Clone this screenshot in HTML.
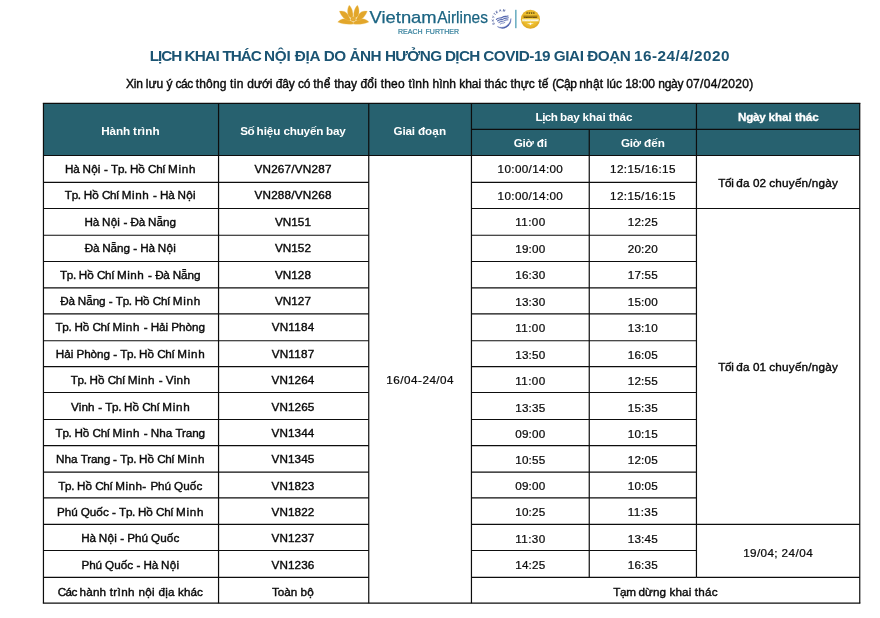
<!DOCTYPE html>
<html lang="vi"><head><meta charset="utf-8"><title>Lịch khai thác nội địa - Vietnam Airlines</title>
<style>
html,body{margin:0;padding:0;background:#fff}
body{width:880px;height:618px;position:relative;overflow:hidden;font-family:"Liberation Sans",sans-serif;color:#111}
.abs{position:absolute}
.c{position:absolute;text-align:center;white-space:nowrap;font-size:11.7px;color:#0a0a0a;-webkit-text-stroke:0.4px #0a0a0a}
.h{position:absolute;text-align:center;white-space:nowrap;font-size:11.7px;font-weight:bold;color:#fff}
#title{position:absolute;text-align:left;white-space:nowrap;font-weight:bold;font-size:15.3px;color:#1b5473}
#sub{position:absolute;text-align:left;white-space:nowrap;font-size:12.02px;color:#0a0a0a;-webkit-text-stroke:0.4px #0a0a0a}
#hdrbg{position:absolute;background:#27616f}
svg{position:absolute;left:0;top:0}

</style></head><body>
<div id="hdrbg" style="left:43.45px;top:103.3px;width:816.3px;height:52.2px"></div>
<svg id="logo" width="240" height="40" viewBox="330 0 240 40" style="left:330px;top:0" font-family="Liberation Sans, sans-serif">
<defs>
<radialGradient id="gold" cx="0.5" cy="0.45" r="0.55">
<stop offset="0" stop-color="#f3cf3a"/><stop offset="0.7" stop-color="#ecbb2c"/><stop offset="1" stop-color="#dba321"/>
</radialGradient>
<path id="skyarc" d="M 495.2,24.2 A 8.3,8.3 0 0 1 506.6,12.7"/>
</defs>
<!-- lotus -->
<g transform="translate(334,2) scale(0.04545)" fill="#e2a62a" stroke="#efc666" stroke-width="7" stroke-linejoin="round">
<path d="M82,442 C120,395 180,362 250,370 C320,378 380,420 425,452 L425,486 C330,498 180,492 82,442 Z"/>
<path d="M768,440 C730,395 670,362 600,370 C530,378 470,420 425,452 L425,486 C520,498 670,492 768,440 Z"/>
<path d="M118,203 C190,188 268,212 303,272 C322,308 338,350 368,388 L335,414 C240,400 160,310 118,203 Z"/>
<path d="M732,203 C660,188 582,212 547,272 C528,308 512,350 482,388 L515,414 C610,400 690,310 732,203 Z"/>
<path d="M335,70 C298,120 283,230 318,300 C338,337 375,352 407,352 C428,290 422,160 335,70 Z"/>
<path d="M515,70 C552,120 567,230 532,300 C512,337 475,352 443,352 C422,290 428,160 515,70 Z"/>
<path d="M425,318 C470,330 500,370 470,410 C450,432 400,432 380,410 C350,370 380,330 425,318 Z"/>
<circle cx="425" cy="372" r="22" fill="none" stroke-width="8"/>
</g>
<!-- wordmark -->
<text x="369.6" y="22.7" font-size="16.6" fill="#1b6482" stroke="#1b6482" stroke-width="0.25" textLength="67" lengthAdjust="spacingAndGlyphs">Vietnam</text>
<text x="437.2" y="22.7" font-size="16.6" fill="#1b6482" stroke="#1b6482" stroke-width="0.25" textLength="50.8" lengthAdjust="spacingAndGlyphs">Airlines</text>
<text x="398" y="33.6" font-size="7.8" fill="#35809d" stroke="#35809d" stroke-width="0.22" textLength="61" lengthAdjust="spacingAndGlyphs" word-spacing="1">REACH FURTHER</text>
<!-- skyteam -->
<g fill="none" stroke="#4157a6" stroke-linecap="round">
<path d="M510.9,18.9 A8.5,8.5 0 0 1 497.4,26.6 A9.6,9.6 0 0 0 510.9,18.9 Z" fill="#4157a6" stroke-width="0.4"/>
<path d="M496.4,19.4 C498.6,16.9 500.4,18.9 502.5,17.2 C504.5,15.6 506,16.9 508,15.9" stroke-width="1.15" opacity="0.9"/>
<path d="M497.6,21 C499.8,18.6 501.6,20.5 503.6,18.9 C505.5,17.4 506.8,18.6 508.3,17.8" stroke-width="1.15" opacity="0.85"/>
<path d="M498.9,22.6 C500.8,20.4 502.6,22.1 504.5,20.6 C506,19.5 507,20.1 508,19.8" stroke-width="1.1" opacity="0.75"/>
<path d="M500.2,24.1 C501.8,22.4 503.3,23.7 504.9,22.5" stroke-width="1" opacity="0.65"/>
</g>
<text font-size="3.2" font-weight="bold" fill="#33478f" letter-spacing="0.75"><textPath href="#skyarc">SKYTEAM</textPath></text>
<!-- divider -->
<rect x="515.2" y="9.8" width="1.3" height="18.4" fill="#4f9fb6"/>
<!-- 4-star badge -->
<circle cx="530.4" cy="19.3" r="9.5" fill="url(#gold)"/>
<text x="530.4" y="14" font-size="3" text-anchor="middle" fill="#3a2a08" font-family="DejaVu Sans, sans-serif" textLength="9.4">★★★★</text>
<rect x="523.4" y="15.5" width="14" height="2.4" fill="#a97f16"/>
<text x="530.4" y="17.5" font-size="2.4" font-weight="bold" text-anchor="middle" fill="#3a2a08" textLength="13">CERTIFIED</text>
<rect x="522" y="18.9" width="16.8" height="2.5" fill="#f4e6ad"/>
<text x="530.4" y="21" font-size="2.4" font-weight="bold" text-anchor="middle" fill="#fff" textLength="15.2">4-STAR AIRLINE</text>
<path d="M526.8,23.8 L529.6,23.3 L530.4,22.6 L531.2,23.3 L534,23.8 L531.2,24.3 L530.4,25.2 L529.6,24.3 Z" fill="#fff"/>
</svg>

<div id="title" style="top:45.6px;line-height:20px;left:149.7px"><span style="letter-spacing:-1.038px">LỊCH </span><span style="letter-spacing:-0.706px">KHAI </span><span style="letter-spacing:-1.058px">THÁC </span><span style="letter-spacing:-0.212px">NỘI </span><span style="letter-spacing:-0.233px">ĐỊA </span><span style="letter-spacing:-0.512px">DO </span><span style="letter-spacing:-0.469px">ẢNH </span><span style="letter-spacing:-0.654px">HƯỞNG </span><span style="letter-spacing:-0.683px">DỊCH </span><span style="letter-spacing:-0.471px">COVID-19 </span><span style="letter-spacing:-0.434px">GIAI </span><span style="letter-spacing:-0.508px">ĐOẠN </span><span style="letter-spacing:0.477px">16-24/4/2020</span></div>
<div id="sub" style="top:74px;line-height:20px;left:126px"><span style="letter-spacing:-0.246px">Xin </span><span style="letter-spacing:0.021px">lưu </span><span style="letter-spacing:-0.212px">ý </span><span style="letter-spacing:-0.440px">các </span><span style="letter-spacing:0.150px">thông </span><span style="letter-spacing:0.294px">tin </span><span style="letter-spacing:-0.039px">dưới </span><span style="letter-spacing:-0.120px">đây </span><span style="letter-spacing:-0.225px">có </span><span style="letter-spacing:0.196px">thể </span><span style="letter-spacing:0.047px">thay </span><span style="letter-spacing:0.201px">đổi </span><span style="letter-spacing:0.206px">theo </span><span style="letter-spacing:0.146px">tình </span><span style="letter-spacing:-0.003px">hình </span><span style="letter-spacing:-0.042px">khai </span><span style="letter-spacing:0.018px">thác </span><span style="letter-spacing:0.071px">thực </span><span style="letter-spacing:0.139px">tế </span><span style="letter-spacing:-0.443px">(Cập </span><span style="letter-spacing:0.128px">nhật </span><span style="letter-spacing:-0.061px">lúc </span><span style="letter-spacing:-0.044px">18:00 </span><span style="letter-spacing:-0.314px">ngày </span><span style="letter-spacing:0.301px">07/04/2020)</span></div>
<div class="h" style="left:42.92px;top:104.7px;width:175.1px;height:52.2px;line-height:52.2px;"><span style="letter-spacing:-0.101px">Hành </span><span style="letter-spacing:0.137px">trình</span></div>
<div class="h" style="left:217.86px;top:104.7px;width:150.2px;height:52.2px;line-height:52.2px;"><span style="letter-spacing:-0.627px">Số </span><span style="letter-spacing:-0.053px">hiệu </span><span style="letter-spacing:-0.244px">chuyến </span><span style="letter-spacing:-0.182px">bay</span></div>
<div class="h" style="left:368.48px;top:104.7px;width:102.7px;height:52.2px;line-height:52.2px;"><span style="letter-spacing:-0.193px">Giai </span><span style="letter-spacing:0.064px">đoạn</span></div>
<div class="h" style="left:471.51px;top:104.3px;width:225px;height:26.05px;line-height:26.05px;"><span style="letter-spacing:-0.577px">Lịch </span><span style="letter-spacing:-0.203px">bay </span><span style="letter-spacing:-0.100px">khai </span><span style="letter-spacing:-0.089px">thác</span></div>
<div class="h" style="left:471.64px;top:130.35px;width:117.8px;height:26.15px;line-height:26.15px;"><span style="letter-spacing:-0.232px">Giờ </span><span style="letter-spacing:0.177px">đi</span></div>
<div class="h" style="left:589.42px;top:130.35px;width:107.2px;height:26.15px;line-height:26.15px;"><span style="letter-spacing:-0.232px">Giờ </span><span style="letter-spacing:0.145px">đến</span></div>
<div class="h" style="left:696.74px;top:104.3px;width:163.3px;height:26.05px;line-height:26.05px;-webkit-text-stroke:0.3px #fff;"><span style="letter-spacing:-0.263px">Ngày </span><span style="letter-spacing:-0.048px">khai </span><span style="letter-spacing:-0.030px">thác</span></div>
<div class="c" style="left:43.1px;top:155.5px;width:175.1px;height:26.8px;line-height:26.8px;"><span style="letter-spacing:-0.225px">Hà </span><span style="letter-spacing:0.172px">Nội </span><span style="letter-spacing:-0.061px">- </span><span style="letter-spacing:-0.322px">Tp. </span><span style="letter-spacing:-0.013px">Hồ </span><span style="letter-spacing:-0.367px">Chí </span><span style="letter-spacing:0.706px">Minh</span></div>
<div class="c" style="left:217.96px;top:155.5px;width:150.2px;height:26.8px;line-height:26.8px;"><span style="letter-spacing:0.224px">VN267/VN287</span></div>
<div class="c" style="left:471.53px;top:155.9px;width:117.8px;height:26.8px;line-height:26.8px;-webkit-text-stroke-width:0.24px;"><span style="letter-spacing:0.353px">10:00/14:00</span></div>
<div class="c" style="left:589.33px;top:155.9px;width:107.2px;height:26.8px;line-height:26.8px;-webkit-text-stroke-width:0.24px;"><span style="letter-spacing:0.353px">12:15/16:15</span></div>
<div class="c" style="left:42.91px;top:182.37px;width:175.1px;height:26.2px;line-height:26.2px;"><span style="letter-spacing:-0.322px">Tp. </span><span style="letter-spacing:-0.013px">Hồ </span><span style="letter-spacing:-0.367px">Chí </span><span style="letter-spacing:0.512px">Minh </span><span style="letter-spacing:-0.061px">- </span><span style="letter-spacing:-0.225px">Hà </span><span style="letter-spacing:0.319px">Nội</span></div>
<div class="c" style="left:217.96px;top:182.37px;width:150.2px;height:26.2px;line-height:26.2px;"><span style="letter-spacing:0.224px">VN288/VN268</span></div>
<div class="c" style="left:471.53px;top:182.77px;width:117.8px;height:26.2px;line-height:26.2px;-webkit-text-stroke-width:0.24px;"><span style="letter-spacing:0.353px">10:00/14:00</span></div>
<div class="c" style="left:589.33px;top:182.77px;width:107.2px;height:26.2px;line-height:26.2px;-webkit-text-stroke-width:0.24px;"><span style="letter-spacing:0.353px">12:15/16:15</span></div>
<div class="c" style="left:42.75px;top:208.64px;width:175.1px;height:26.75px;line-height:26.75px;"><span style="letter-spacing:-0.225px">Hà </span><span style="letter-spacing:0.172px">Nội </span><span style="letter-spacing:-0.061px">- </span><span style="letter-spacing:-0.219px">Đà </span><span style="letter-spacing:0.005px">Nẵng</span></div>
<div class="c" style="left:217.88px;top:208.64px;width:150.2px;height:26.75px;line-height:26.75px;"><span style="letter-spacing:0.062px">VN151</span></div>
<div class="c" style="left:471.54px;top:209.04px;width:117.8px;height:26.75px;line-height:26.75px;-webkit-text-stroke-width:0.24px;"><span style="letter-spacing:0.377px">11:00</span></div>
<div class="c" style="left:589.25px;top:209.04px;width:107.2px;height:26.75px;line-height:26.75px;-webkit-text-stroke-width:0.24px;"><span style="letter-spacing:0.203px">12:25</span></div>
<div class="c" style="left:42.91px;top:235.46px;width:175.1px;height:26.25px;line-height:26.25px;"><span style="letter-spacing:-0.219px">Đà </span><span style="letter-spacing:-0.049px">Nẵng </span><span style="letter-spacing:-0.061px">- </span><span style="letter-spacing:-0.225px">Hà </span><span style="letter-spacing:0.319px">Nội</span></div>
<div class="c" style="left:217.88px;top:235.46px;width:150.2px;height:26.25px;line-height:26.25px;"><span style="letter-spacing:0.062px">VN152</span></div>
<div class="c" style="left:471.45px;top:235.86px;width:117.8px;height:26.25px;line-height:26.25px;-webkit-text-stroke-width:0.24px;"><span style="letter-spacing:0.203px">19:00</span></div>
<div class="c" style="left:589.25px;top:235.86px;width:107.2px;height:26.25px;line-height:26.25px;-webkit-text-stroke-width:0.24px;"><span style="letter-spacing:0.203px">20:20</span></div>
<div class="c" style="left:42.75px;top:261.78px;width:175.1px;height:26.4px;line-height:26.4px;"><span style="letter-spacing:-0.322px">Tp. </span><span style="letter-spacing:-0.013px">Hồ </span><span style="letter-spacing:-0.367px">Chí </span><span style="letter-spacing:0.512px">Minh </span><span style="letter-spacing:-0.061px">- </span><span style="letter-spacing:-0.219px">Đà </span><span style="letter-spacing:0.005px">Nẵng</span></div>
<div class="c" style="left:217.88px;top:261.78px;width:150.2px;height:26.4px;line-height:26.4px;"><span style="letter-spacing:0.062px">VN128</span></div>
<div class="c" style="left:471.45px;top:262.18px;width:117.8px;height:26.4px;line-height:26.4px;-webkit-text-stroke-width:0.24px;"><span style="letter-spacing:0.203px">16:30</span></div>
<div class="c" style="left:589.25px;top:262.18px;width:107.2px;height:26.4px;line-height:26.4px;-webkit-text-stroke-width:0.24px;"><span style="letter-spacing:0.203px">17:55</span></div>
<div class="c" style="left:43.1px;top:288.25px;width:175.1px;height:26px;line-height:26px;"><span style="letter-spacing:-0.219px">Đà </span><span style="letter-spacing:-0.049px">Nẵng </span><span style="letter-spacing:-0.061px">- </span><span style="letter-spacing:-0.322px">Tp. </span><span style="letter-spacing:-0.013px">Hồ </span><span style="letter-spacing:-0.367px">Chí </span><span style="letter-spacing:0.706px">Minh</span></div>
<div class="c" style="left:217.88px;top:288.25px;width:150.2px;height:26px;line-height:26px;"><span style="letter-spacing:0.062px">VN127</span></div>
<div class="c" style="left:471.45px;top:288.65px;width:117.8px;height:26px;line-height:26px;-webkit-text-stroke-width:0.24px;"><span style="letter-spacing:0.203px">13:30</span></div>
<div class="c" style="left:589.25px;top:288.65px;width:107.2px;height:26px;line-height:26px;-webkit-text-stroke-width:0.24px;"><span style="letter-spacing:0.203px">15:00</span></div>
<div class="c" style="left:42.75px;top:314.32px;width:175.1px;height:26.85px;line-height:26.85px;"><span style="letter-spacing:-0.322px">Tp. </span><span style="letter-spacing:-0.013px">Hồ </span><span style="letter-spacing:-0.367px">Chí </span><span style="letter-spacing:0.512px">Minh </span><span style="letter-spacing:-0.061px">- </span><span style="letter-spacing:-0.061px">Hải </span><span style="letter-spacing:0.006px">Phòng</span></div>
<div class="c" style="left:217.96px;top:314.32px;width:150.2px;height:26.85px;line-height:26.85px;"><span style="letter-spacing:0.227px">VN1184</span></div>
<div class="c" style="left:471.54px;top:314.72px;width:117.8px;height:26.85px;line-height:26.85px;-webkit-text-stroke-width:0.24px;"><span style="letter-spacing:0.377px">11:00</span></div>
<div class="c" style="left:589.25px;top:314.72px;width:107.2px;height:26.85px;line-height:26.85px;-webkit-text-stroke-width:0.24px;"><span style="letter-spacing:0.203px">13:10</span></div>
<div class="c" style="left:43.1px;top:341.24px;width:175.1px;height:25.85px;line-height:25.85px;"><span style="letter-spacing:-0.061px">Hải </span><span style="letter-spacing:-0.039px">Phòng </span><span style="letter-spacing:-0.061px">- </span><span style="letter-spacing:-0.322px">Tp. </span><span style="letter-spacing:-0.013px">Hồ </span><span style="letter-spacing:-0.367px">Chí </span><span style="letter-spacing:0.706px">Minh</span></div>
<div class="c" style="left:217.96px;top:341.24px;width:150.2px;height:25.85px;line-height:25.85px;"><span style="letter-spacing:0.227px">VN1187</span></div>
<div class="c" style="left:471.45px;top:341.64px;width:117.8px;height:25.85px;line-height:25.85px;-webkit-text-stroke-width:0.24px;"><span style="letter-spacing:0.203px">13:50</span></div>
<div class="c" style="left:589.25px;top:341.64px;width:107.2px;height:25.85px;line-height:25.85px;-webkit-text-stroke-width:0.24px;"><span style="letter-spacing:0.203px">16:05</span></div>
<div class="c" style="left:42.9px;top:367.16px;width:175.1px;height:25.9px;line-height:25.9px;"><span style="letter-spacing:-0.322px">Tp. </span><span style="letter-spacing:-0.013px">Hồ </span><span style="letter-spacing:-0.367px">Chí </span><span style="letter-spacing:0.512px">Minh </span><span style="letter-spacing:-0.061px">- </span><span style="letter-spacing:0.296px">Vinh</span></div>
<div class="c" style="left:217.89px;top:367.16px;width:150.2px;height:25.9px;line-height:25.9px;"><span style="letter-spacing:0.082px">VN1264</span></div>
<div class="c" style="left:471.54px;top:367.56px;width:117.8px;height:25.9px;line-height:25.9px;-webkit-text-stroke-width:0.24px;"><span style="letter-spacing:0.377px">11:00</span></div>
<div class="c" style="left:589.25px;top:367.56px;width:107.2px;height:25.9px;line-height:25.9px;-webkit-text-stroke-width:0.24px;"><span style="letter-spacing:0.203px">12:55</span></div>
<div class="c" style="left:43.1px;top:393.13px;width:175.1px;height:27px;line-height:27px;"><span style="letter-spacing:0.183px">Vinh </span><span style="letter-spacing:-0.061px">- </span><span style="letter-spacing:-0.322px">Tp. </span><span style="letter-spacing:-0.013px">Hồ </span><span style="letter-spacing:-0.367px">Chí </span><span style="letter-spacing:0.706px">Minh</span></div>
<div class="c" style="left:217.89px;top:393.13px;width:150.2px;height:27px;line-height:27px;"><span style="letter-spacing:0.082px">VN1265</span></div>
<div class="c" style="left:471.45px;top:393.53px;width:117.8px;height:27px;line-height:27px;-webkit-text-stroke-width:0.24px;"><span style="letter-spacing:0.203px">13:35</span></div>
<div class="c" style="left:589.25px;top:393.53px;width:107.2px;height:27px;line-height:27px;-webkit-text-stroke-width:0.24px;"><span style="letter-spacing:0.203px">15:35</span></div>
<div class="c" style="left:42.68px;top:420.2px;width:175.1px;height:26.1px;line-height:26.1px;"><span style="letter-spacing:-0.322px">Tp. </span><span style="letter-spacing:-0.013px">Hồ </span><span style="letter-spacing:-0.367px">Chí </span><span style="letter-spacing:0.512px">Minh </span><span style="letter-spacing:-0.061px">- </span><span style="letter-spacing:0.012px">Nha </span><span style="letter-spacing:-0.143px">Trang</span></div>
<div class="c" style="left:217.89px;top:420.2px;width:150.2px;height:26.1px;line-height:26.1px;"><span style="letter-spacing:0.082px">VN1344</span></div>
<div class="c" style="left:471.45px;top:420.6px;width:117.8px;height:26.1px;line-height:26.1px;-webkit-text-stroke-width:0.24px;"><span style="letter-spacing:0.203px">09:00</span></div>
<div class="c" style="left:589.25px;top:420.6px;width:107.2px;height:26.1px;line-height:26.1px;-webkit-text-stroke-width:0.24px;"><span style="letter-spacing:0.203px">10:15</span></div>
<div class="c" style="left:43.1px;top:446.37px;width:175.1px;height:26.5px;line-height:26.5px;"><span style="letter-spacing:0.012px">Nha </span><span style="letter-spacing:-0.163px">Trang </span><span style="letter-spacing:-0.061px">- </span><span style="letter-spacing:-0.322px">Tp. </span><span style="letter-spacing:-0.013px">Hồ </span><span style="letter-spacing:-0.367px">Chí </span><span style="letter-spacing:0.706px">Minh</span></div>
<div class="c" style="left:217.89px;top:446.37px;width:150.2px;height:26.5px;line-height:26.5px;"><span style="letter-spacing:0.082px">VN1345</span></div>
<div class="c" style="left:471.45px;top:446.77px;width:117.8px;height:26.5px;line-height:26.5px;-webkit-text-stroke-width:0.24px;"><span style="letter-spacing:0.203px">10:55</span></div>
<div class="c" style="left:589.25px;top:446.77px;width:107.2px;height:26.5px;line-height:26.5px;-webkit-text-stroke-width:0.24px;"><span style="letter-spacing:0.203px">12:05</span></div>
<div class="c" style="left:42.8px;top:472.94px;width:175.1px;height:25.8px;line-height:25.8px;"><span style="letter-spacing:-0.322px">Tp. </span><span style="letter-spacing:-0.013px">Hồ </span><span style="letter-spacing:-0.367px">Chí </span><span style="letter-spacing:0.451px">Minh- </span><span style="letter-spacing:-0.099px">Phú </span><span style="letter-spacing:0.099px">Quốc</span></div>
<div class="c" style="left:217.89px;top:472.94px;width:150.2px;height:25.8px;line-height:25.8px;"><span style="letter-spacing:0.082px">VN1823</span></div>
<div class="c" style="left:471.45px;top:473.34px;width:117.8px;height:25.8px;line-height:25.8px;-webkit-text-stroke-width:0.24px;"><span style="letter-spacing:0.203px">09:00</span></div>
<div class="c" style="left:589.25px;top:473.34px;width:107.2px;height:25.8px;line-height:25.8px;-webkit-text-stroke-width:0.24px;"><span style="letter-spacing:0.203px">10:05</span></div>
<div class="c" style="left:43.1px;top:498.81px;width:175.1px;height:26.5px;line-height:26.5px;"><span style="letter-spacing:-0.099px">Phú </span><span style="letter-spacing:0.026px">Quốc </span><span style="letter-spacing:-0.061px">- </span><span style="letter-spacing:-0.322px">Tp. </span><span style="letter-spacing:-0.013px">Hồ </span><span style="letter-spacing:-0.367px">Chí </span><span style="letter-spacing:0.706px">Minh</span></div>
<div class="c" style="left:217.89px;top:498.81px;width:150.2px;height:26.5px;line-height:26.5px;"><span style="letter-spacing:0.082px">VN1822</span></div>
<div class="c" style="left:471.45px;top:499.21px;width:117.8px;height:26.5px;line-height:26.5px;-webkit-text-stroke-width:0.24px;"><span style="letter-spacing:0.203px">10:25</span></div>
<div class="c" style="left:589.34px;top:499.21px;width:107.2px;height:26.5px;line-height:26.5px;-webkit-text-stroke-width:0.24px;"><span style="letter-spacing:0.377px">11:35</span></div>
<div class="c" style="left:42.8px;top:525.38px;width:175.1px;height:26.1px;line-height:26.1px;"><span style="letter-spacing:-0.225px">Hà </span><span style="letter-spacing:0.172px">Nội </span><span style="letter-spacing:-0.061px">- </span><span style="letter-spacing:-0.099px">Phú </span><span style="letter-spacing:0.099px">Quốc</span></div>
<div class="c" style="left:217.89px;top:525.38px;width:150.2px;height:26.1px;line-height:26.1px;"><span style="letter-spacing:0.082px">VN1237</span></div>
<div class="c" style="left:471.54px;top:525.78px;width:117.8px;height:26.1px;line-height:26.1px;-webkit-text-stroke-width:0.24px;"><span style="letter-spacing:0.377px">11:30</span></div>
<div class="c" style="left:589.25px;top:525.78px;width:107.2px;height:26.1px;line-height:26.1px;-webkit-text-stroke-width:0.24px;"><span style="letter-spacing:0.203px">13:45</span></div>
<div class="c" style="left:42.91px;top:551.55px;width:175.1px;height:26.9px;line-height:26.9px;"><span style="letter-spacing:-0.099px">Phú </span><span style="letter-spacing:0.026px">Quốc </span><span style="letter-spacing:-0.061px">- </span><span style="letter-spacing:-0.225px">Hà </span><span style="letter-spacing:0.319px">Nội</span></div>
<div class="c" style="left:217.89px;top:551.55px;width:150.2px;height:26.9px;line-height:26.9px;"><span style="letter-spacing:0.082px">VN1236</span></div>
<div class="c" style="left:471.45px;top:551.95px;width:117.8px;height:26.9px;line-height:26.9px;-webkit-text-stroke-width:0.24px;"><span style="letter-spacing:0.203px">14:25</span></div>
<div class="c" style="left:589.25px;top:551.95px;width:107.2px;height:26.9px;line-height:26.9px;-webkit-text-stroke-width:0.24px;"><span style="letter-spacing:0.203px">16:35</span></div>
<div class="c" style="left:42.77px;top:578.52px;width:175.1px;height:25.8px;line-height:25.8px;"><span style="letter-spacing:-0.532px">Các </span><span style="letter-spacing:0.167px">hành </span><span style="letter-spacing:0.374px">trình </span><span style="letter-spacing:0.261px">nội </span><span style="letter-spacing:0.189px">địa </span><span style="letter-spacing:0.032px">khác</span></div>
<div class="c" style="left:218.07px;top:578.52px;width:150.2px;height:25.8px;line-height:25.8px;"><span style="letter-spacing:-0.032px">Toàn </span><span style="letter-spacing:0.441px">bộ</span></div>
<div class="c" style="left:471.49px;top:578.92px;width:388.3px;height:25.8px;line-height:25.8px;"><span style="letter-spacing:-0.350px">Tạm </span><span style="letter-spacing:0.083px">dừng </span><span style="letter-spacing:0.112px">khai </span><span style="letter-spacing:0.287px">thác</span></div>
<div class="c" style="left:368.89px;top:156.46px;width:102.7px;height:447.7px;line-height:447.7px;-webkit-text-stroke-width:0.24px;"><span style="letter-spacing:0.483px">16/04-24/04</span></div>
<div class="c" style="left:696.46px;top:155.93px;width:163.3px;height:53px;line-height:53px;"><span style="letter-spacing:-0.317px">Tối </span><span style="letter-spacing:0.109px">đa </span><span style="letter-spacing:0.034px">02 </span><span style="letter-spacing:0.225px">chuyến/ngày</span></div>
<div class="c" style="left:696.46px;top:209.43px;width:163.3px;height:315.9px;line-height:315.9px;"><span style="letter-spacing:-0.317px">Tối </span><span style="letter-spacing:0.109px">đa </span><span style="letter-spacing:0.034px">01 </span><span style="letter-spacing:0.225px">chuyến/ngày</span></div>
<div class="c" style="left:696.61px;top:525.82px;width:163.3px;height:53px;line-height:53px;-webkit-text-stroke-width:0.24px;"><span style="letter-spacing:0.371px">19/04; </span><span style="letter-spacing:0.516px">24/04</span></div>
<svg width="880" height="618" viewBox="0 0 880 618">
<g stroke="#0d0d0d" stroke-width="1.2" fill="none">
<line x1="42.85" y1="103.3" x2="860.35" y2="103.3"/>
<line x1="42.85" y1="603.2" x2="860.35" y2="603.2"/>
<line x1="43.45" y1="103.3" x2="43.45" y2="603.2"/>
<line x1="859.75" y1="103.3" x2="859.75" y2="603.2"/>
<line x1="471.45" y1="129.35" x2="859.75" y2="129.35"/>
<line x1="43.45" y1="155.5" x2="859.75" y2="155.5"/>
<line x1="218.55" y1="103.3" x2="218.55" y2="603.2"/>
<line x1="368.75" y1="103.3" x2="368.75" y2="603.2"/>
<line x1="471.45" y1="103.3" x2="471.45" y2="603.2"/>
<line x1="589.25" y1="129.35" x2="589.25" y2="577.4"/>
<line x1="696.45" y1="103.3" x2="696.45" y2="577.4"/>
<line x1="43.45" y1="182.3" x2="368.75" y2="182.3"/>
<line x1="471.45" y1="182.3" x2="696.45" y2="182.3"/>
<line x1="43.45" y1="208.5" x2="368.75" y2="208.5"/>
<line x1="471.45" y1="208.5" x2="696.45" y2="208.5"/>
<line x1="696.45" y1="208.5" x2="859.75" y2="208.5"/>
<line x1="43.45" y1="235.25" x2="368.75" y2="235.25"/>
<line x1="471.45" y1="235.25" x2="696.45" y2="235.25"/>
<line x1="43.45" y1="261.5" x2="368.75" y2="261.5"/>
<line x1="471.45" y1="261.5" x2="696.45" y2="261.5"/>
<line x1="43.45" y1="287.9" x2="368.75" y2="287.9"/>
<line x1="471.45" y1="287.9" x2="696.45" y2="287.9"/>
<line x1="43.45" y1="313.9" x2="368.75" y2="313.9"/>
<line x1="471.45" y1="313.9" x2="696.45" y2="313.9"/>
<line x1="43.45" y1="340.75" x2="368.75" y2="340.75"/>
<line x1="471.45" y1="340.75" x2="696.45" y2="340.75"/>
<line x1="43.45" y1="366.6" x2="368.75" y2="366.6"/>
<line x1="471.45" y1="366.6" x2="696.45" y2="366.6"/>
<line x1="43.45" y1="392.5" x2="368.75" y2="392.5"/>
<line x1="471.45" y1="392.5" x2="696.45" y2="392.5"/>
<line x1="43.45" y1="419.5" x2="368.75" y2="419.5"/>
<line x1="471.45" y1="419.5" x2="696.45" y2="419.5"/>
<line x1="43.45" y1="445.6" x2="368.75" y2="445.6"/>
<line x1="471.45" y1="445.6" x2="696.45" y2="445.6"/>
<line x1="43.45" y1="472.1" x2="368.75" y2="472.1"/>
<line x1="471.45" y1="472.1" x2="696.45" y2="472.1"/>
<line x1="43.45" y1="497.9" x2="368.75" y2="497.9"/>
<line x1="471.45" y1="497.9" x2="696.45" y2="497.9"/>
<line x1="43.45" y1="524.4" x2="368.75" y2="524.4"/>
<line x1="471.45" y1="524.4" x2="696.45" y2="524.4"/>
<line x1="696.45" y1="524.4" x2="859.75" y2="524.4"/>
<line x1="43.45" y1="550.5" x2="368.75" y2="550.5"/>
<line x1="471.45" y1="550.5" x2="696.45" y2="550.5"/>
<line x1="43.45" y1="577.4" x2="368.75" y2="577.4"/>
<line x1="471.45" y1="577.4" x2="696.45" y2="577.4"/>
<line x1="696.45" y1="577.4" x2="859.75" y2="577.4"/>
</g></svg>
</body></html>
